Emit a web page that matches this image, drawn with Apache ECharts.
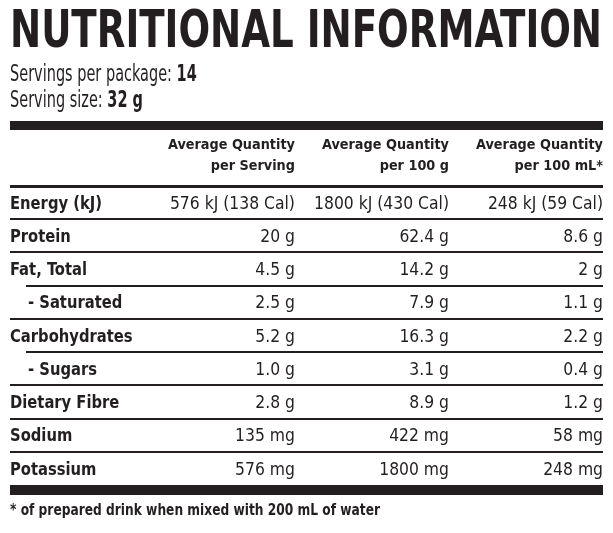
<!DOCTYPE html>
<html>
<head>
<meta charset="utf-8">
<script src="https://cdn.jsdelivr.net/npm/echarts@6/dist/echarts.min.js"></script>
<style>html,body{margin:0;padding:0;background:#fff}#c{width:613px;height:533px}</style>
</head>
<body>
<div id="c"></div>
<script>
// ---- data ----
const titleText = 'NUTRITIONAL INFORMATION';
const servingsLabel = 'Servings per package: ';
const servingsValue = '14';
const sizeLabel = 'Serving size: ';
const sizeValue = '32 g';
const columnHeaders = ['Average Quantity\nper Serving', 'Average Quantity\nper 100 g', 'Average Quantity\nper 100 mL*'];
const nutrients = ['Energy (kJ)', 'Protein', 'Fat, Total', '- Saturated', 'Carbohydrates', '- Sugars', 'Dietary Fibre', 'Sodium', 'Potassium'];
const perServing = ['576 kJ (138 Cal)', '20 g', '4.5 g', '2.5 g', '5.2 g', '1.0 g', '2.8 g', '135 mg', '576 mg'];
const per100g = ['1800 kJ (430 Cal)', '62.4 g', '14.2 g', '7.9 g', '16.3 g', '3.1 g', '8.9 g', '422 mg', '1800 mg'];
const per100mL = ['248 kJ (59 Cal)', '8.6 g', '2 g', '1.1 g', '2.2 g', '0.4 g', '1.2 g', '58 mg', '248 mg'];
const footnote = '* of prepared drink when mixed with 200 mL of water';

// ---- fonts ----
const INK = '#231f20';
const cv = document.createElement('canvas').getContext('2d');
function has(f) {
  const s = 'abcdefghijklmnopqrstuvwxyz0123456789 ABCDEFGHIJ';
  cv.font = '40px "' + f + '", monospace'; const a = cv.measureText(s).width;
  cv.font = '40px monospace'; const b = cv.measureText(s).width;
  cv.font = '40px "' + f + '", serif'; const c = cv.measureText(s).width;
  cv.font = '40px serif'; const d = cv.measureText(s).width;
  return a !== b || c !== d;
}
const FAM = has('Liberation Sans Narrow') ? '"Liberation Sans Narrow"' :
  (has('DejaVu Sans Condensed') ? '"DejaVu Sans Condensed"' : 'sans-serif');
// horizontal squeeze so that a reference string spans the width seen in the picture
function squeeze(text, weight, size, target) {
  cv.font = weight + ' ' + size + 'px ' + FAM;
  return Math.min(1.15, target / cv.measureText(text).width);
}
const ST = {
  title: { size: 52, w: 'bold' },
  sub: { size: 22.5, w: 'normal' },
  head: { size: 14.5, w: 'bold' },
  label: { size: 17.8, w: 'bold' },
  val: { size: 17.8, w: 'normal' },
  foot: { size: 15.5, w: 'bold' }
};
ST.title.sx = squeeze(titleText, 'bold', ST.title.size, 592);
ST.sub.sx = squeeze('Servings per package:', 'normal', ST.sub.size, 162);
ST.head.sx = squeeze('Average Quantity', 'bold', ST.head.size, 127);
ST.label.sx = squeeze(nutrients[0], 'bold', ST.label.size, 92);
ST.val.sx = squeeze(perServing[0], 'normal', ST.val.size, 125);
ST.foot.sx = squeeze(footnote, 'bold', ST.foot.size, 370);
function txt(st, text, x, y, align, extra) {
  return Object.assign({
    type: 'text', x: x, y: y, scaleX: st.sx, scaleY: 1,
    style: { text: text, fontSize: st.size, fontWeight: st.w, fontFamily: FAM, fill: INK, align: align, verticalAlign: 'middle' }
  }, extra || {});
}

// ---- cells ----
const columns = [perServing, per100g, per100mL];
const cells = [];
columns.forEach((col, c) => col.forEach((t, r) => cells.push({ value: [c + 1, r], text: t })));
const nameCells = nutrients.map((n, i) => ({ value: [-0.85, i], text: n }));
const rules = nutrients.map((n, i) => ({ value: [-0.85, i] })).slice(1);
const headCells = columnHeaders.map((h, i) => ({ value: [i + 1, 0], text: h }));

const chart = echarts.init(document.getElementById('c'), null, { renderer: 'canvas' });
chart.setOption({
  animation: false,
  backgroundColor: '#fff',
  textStyle: { fontFamily: FAM },
  grid: { left: 10, right: 10, top: 186, height: 299 },
  xAxis: [{
    type: 'value', min: -0.85, max: 3, position: 'top',
    axisLine: { show: true, onZero: false, lineStyle: { color: INK, width: 3, cap: 'butt' } },
    axisTick: { show: false }, splitLine: { show: false }, axisLabel: { show: false }
  }, {
    type: 'value', min: -0.85, max: 3, position: 'bottom', offset: 5,
    axisLine: { show: true, onZero: false, lineStyle: { color: INK, width: 10, cap: 'butt' } },
    axisTick: { show: false }, splitLine: { show: false }, axisLabel: { show: false }
  }],
  yAxis: {
    type: 'category', data: nutrients, inverse: true,
    axisLine: { show: false }, axisTick: { show: false }, splitLine: { show: false }, axisLabel: { show: false }
  },
  series: [{
    type: 'custom', xAxisIndex: 0, data: rules, silent: true,
    renderItem: (params, api) => {
      const row = api.value(1);
      const c = api.coord([api.value(0), row]);
      const h = api.size([0, 1])[1];
      const cs = params.coordSys;
      const ind = nutrients[row].charAt(0) === '-' ? 16 : 0;
      const y = Math.round(c[1] - h / 2);
      return { type: 'line', shape: { x1: cs.x + ind, y1: y, x2: cs.x + cs.width, y2: y }, style: { stroke: INK, lineWidth: 2 } };
    }
  }, {
    type: 'custom', xAxisIndex: 0, data: cells, silent: true,
    renderItem: (params, api) => {
      const p = api.coord([api.value(0), api.value(1)]);
      return txt(ST.val, cells[params.dataIndex].text, p[0], p[1] + 1.5, 'right');
    }
  }, {
    type: 'custom', xAxisIndex: 0, data: nameCells, silent: true,
    renderItem: (params, api) => {
      const p = api.coord([api.value(0), api.value(1)]);
      const t = nameCells[params.dataIndex].text;
      const ind = t.charAt(0) === '-' ? 18 : 0;
      return txt(ST.label, t, p[0] + ind, p[1] + 1.5, 'left');
    }
  }, {
    type: 'custom', xAxisIndex: 0, data: headCells, silent: true,
    renderItem: (params, api) => {
      const p = api.coord([api.value(0), 0]);
      const el = txt(ST.head, headCells[params.dataIndex].text, p[0], params.coordSys.y - 30.5, 'right');
      el.style.lineHeight = 20.5;
      return el;
    }
  }],
  graphic: [
    { type: 'rect', shape: { x: 10, y: 121, width: 593, height: 9 }, style: { fill: INK } },
    txt(ST.title, titleText, 10, 33.5, 'left'),
    {
      type: 'text', x: 10, y: 61.5, scaleX: ST.sub.sx,
      style: {
        text: '{l|' + servingsLabel + '}{b|' + servingsValue + '}\n{l|' + sizeLabel + '}{b|' + sizeValue + '}',
        verticalAlign: 'top', lineHeight: 26.5,
        rich: {
          l: { fontSize: ST.sub.size, fontFamily: FAM, fill: INK, lineHeight: 26.5 },
          b: { fontSize: ST.sub.size, fontFamily: FAM, fontWeight: 'bold', fill: INK, lineHeight: 26.5 }
        }
      }
    },
    txt(ST.foot, footnote, 10, 511, 'left')
  ]
});
</script>
</body>
</html>
